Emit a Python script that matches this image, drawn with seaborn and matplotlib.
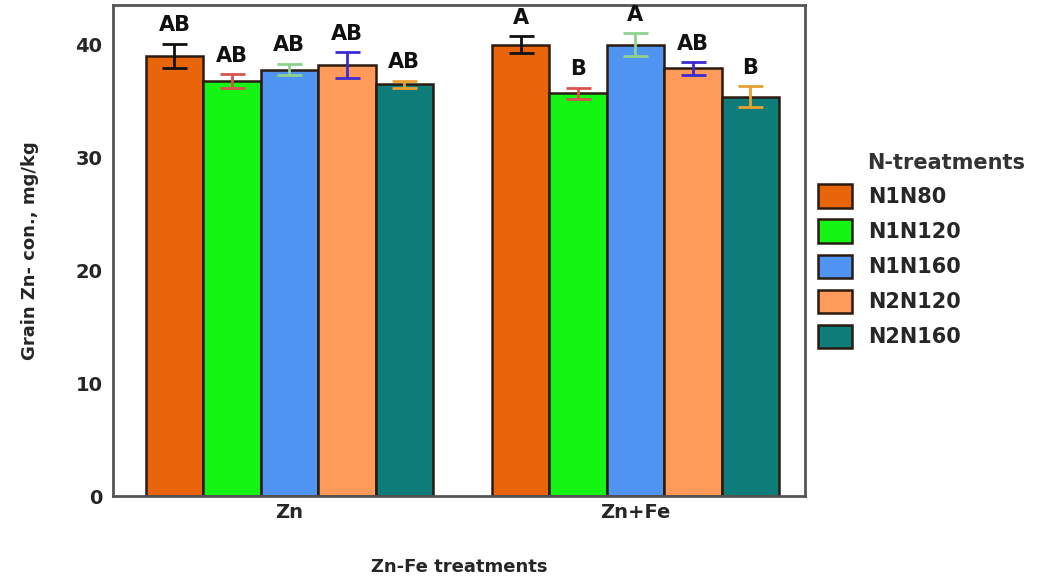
import matplotlib
matplotlib.use("Agg")
import matplotlib.pyplot as plt
import numpy as np
import pandas as pd
import seaborn as sns

# data
zn_fe = ["Zn", "Zn+Fe"]
n_treatments = ["N1N80", "N1N120", "N1N160", "N2N120", "N2N160"]
zn_values = [39.0, 36.8, 37.8, 38.2, 36.5]
znfe_values = [40.0, 35.7, 40.0, 37.9, 35.4]
zn_err = [1.1, 0.6, 0.5, 1.15, 0.3]
znfe_err = [0.75, 0.5, 1.0, 0.55, 0.9]
zn_letters = ["AB", "AB", "AB", "AB", "AB"]
znfe_letters = ["A", "B", "A", "AB", "B"]

bar_colors = ["#E8650A", "#14F514", "#4E94F0", "#FF9A5A", "#0E7C78"]
err_colors = ["#111111", "#D9534F", "#8FD18F", "#3B2BD1", "#E8A030"]

df = pd.DataFrame({
    "trt": np.repeat(zn_fe, len(n_treatments)),
    "N": n_treatments * 2,
    "value": zn_values + znfe_values,
    "err": zn_err + znfe_err,
    "letter": zn_letters + znfe_letters,
})

sns.set_style("white")
plt.rcParams["font.family"] = ["DejaVu Sans"]
plt.rcParams["font.weight"] = "bold"

fig = plt.figure(figsize=(10.55, 5.79), dpi=100)
ax = fig.add_axes([0.107, 0.143, 0.656, 0.848])

sns.barplot(data=df, x="trt", y="value", hue="N", order=zn_fe,
            hue_order=n_treatments, palette=bar_colors, width=0.83,
            saturation=1, errorbar=None, edgecolor="#2a1a10", linewidth=1.8,
            ax=ax)

# error bars and significance letters, positioned from the drawn bars
for i, n in enumerate(n_treatments):
    cont = ax.containers[i]
    sub = df[df["N"] == n].set_index("trt").loc[zn_fe]
    xs = [p.get_x() + p.get_width() / 2 for p in cont.patches]
    ax.errorbar(xs, sub["value"], yerr=sub["err"], fmt="none",
                ecolor=err_colors[i], elinewidth=2, capsize=9, capthick=2,
                zorder=5)
    for x, v, e, lab in zip(xs, sub["value"], sub["err"], sub["letter"]):
        ax.text(x, v + e + 0.75, lab, ha="center", va="bottom",
                fontsize=15, fontweight="bold", color="#111111")

ax.set_xlim(-0.51, 1.49)
ax.set_ylim(0, 43.5)
ax.set_yticks([0, 10, 20, 30, 40])
ax.tick_params(axis="both", labelsize=14, length=4, color="#555555")
ax.tick_params(axis="x", pad=1)
for lab in ax.get_xticklabels() + ax.get_yticklabels():
    lab.set_fontweight("bold")
ax.set_xlabel("Zn-Fe treatments", fontsize=13, fontweight="bold", labelpad=26)
ax.set_ylabel("Grain Zn- con., mg/kg", fontsize=13, fontweight="bold", labelpad=26)
for s in ax.spines.values():
    s.set_color("#555555")
    s.set_linewidth(2)

leg = ax.legend(loc="upper left", bbox_to_anchor=(1.019, 0.635),
                frameon=False, fontsize=15, handlelength=1.63,
                handleheight=1.35, labelspacing=0.56, handletextpad=0.75,
                borderpad=0, borderaxespad=0)
ax.text(1.09, 0.678, "N-treatments", transform=ax.transAxes, ha="left",
        va="center", fontsize=15, fontweight="bold", color="#333333")

fig.savefig("out.png", dpi=100)
